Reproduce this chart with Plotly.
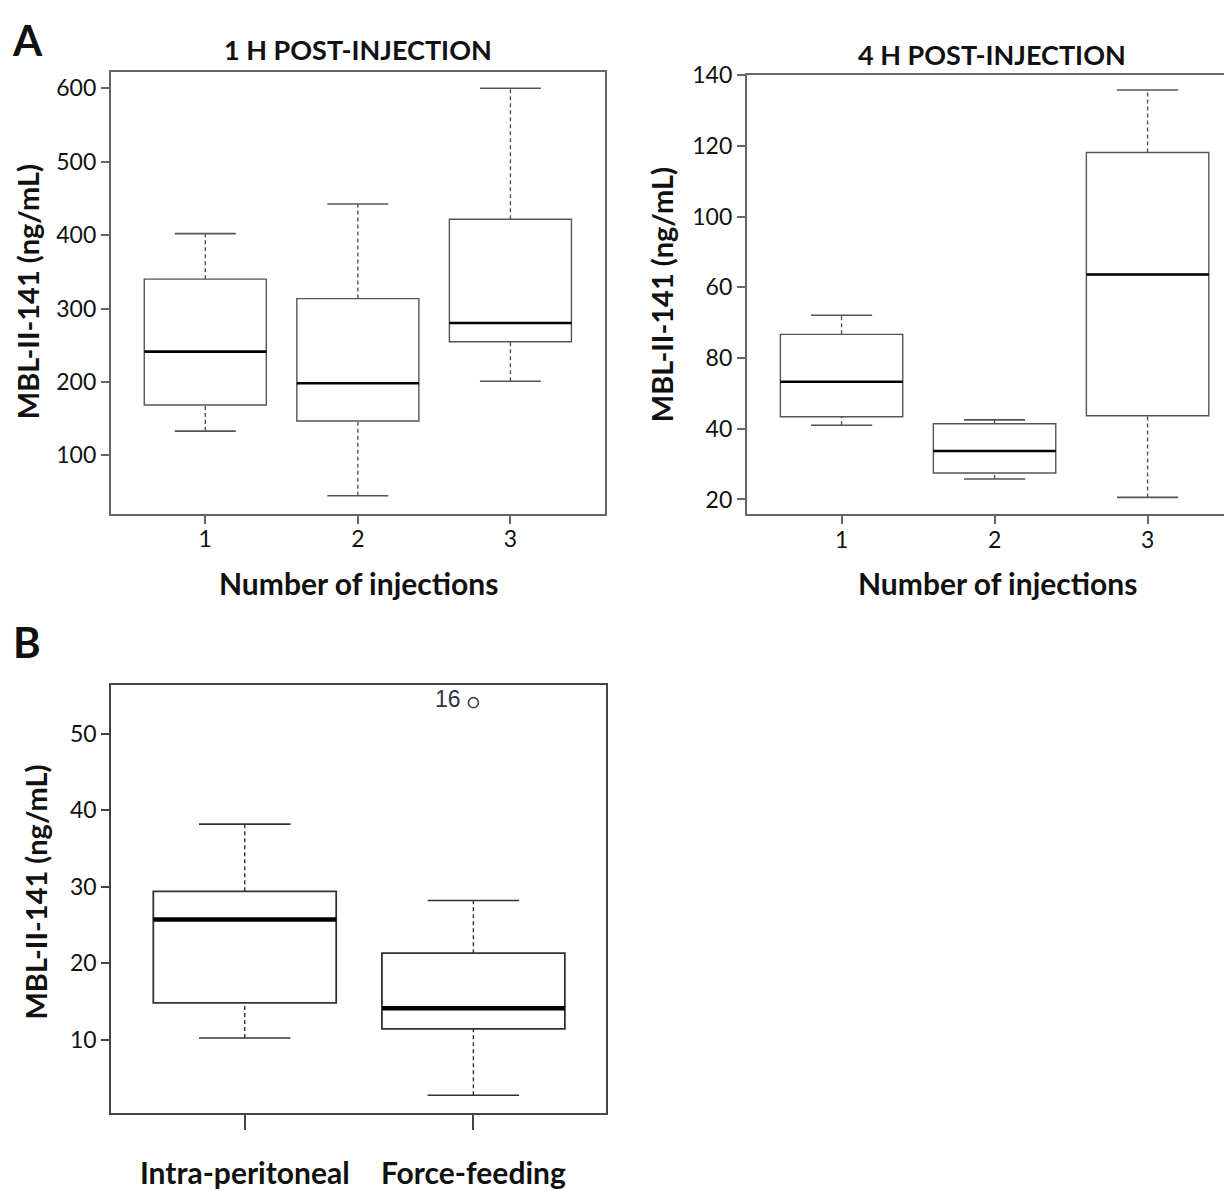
import plotly.graph_objects as go

# ---------------- data ----------------
# Panel A, 1 h post-injection
groups_1h = [1, 2, 3]
lower_1h = [133, 45, 201]
q1_1h = [168.5, 146.7, 254.8]
median_1h = [241.3, 198.2, 280.3]
q3_1h = [340, 313.5, 421.6]
upper_1h = [402, 442.5, 600]
yticks_1h = [100, 200, 300, 400, 500, 600]

# Panel A, 4 h post-injection
groups_4h = [1, 2, 3]
lower_4h = [41.0, 25.8, 20.6]
q1_4h = [43.4, 27.5, 43.7]
median_4h = [53.3, 33.7, 83.6]
q3_4h = [66.7, 41.4, 118.1]
upper_4h = [72.1, 42.5, 135.8]
yticks_4h_vals = [20, 40, 60, 80, 100, 120, 140]
yticks_4h_text = ["20", "40", "80", "60", "100", "120", "140"]  # as printed in the original

# Panel B
routes_b = ["Intra-peritoneal", "Force-feeding"]
pos_b = [1, 2]
lower_b = [10.2, 2.7]
q1_b = [14.8, 11.4]
median_b = [25.7, 14.1]
q3_b = [29.4, 21.3]
upper_b = [38.2, 28.2]
outlier_x_b = [2]
outlier_y_b = [54.1]
outlier_label_b = ["16"]
yticks_b = [10, 20, 30, 40, 50]

# ---------------- style ----------------
W, H = 1232, 1191
FONT = "Lato"
FRAME = "#666666"
BOXC = "#555555"
BOX_W = 0.8
CAP_W = 0.4


def px(x):
    return (x - 8) / W


def py(y, min_fig=0):
    s = max((y - 24) / 0.9867, min_fig)
    return 1 - s / H


fig = go.Figure()


def add_panel(xs, lo, q1, med, q3, hi, xa, ya, box_lw, med_lw, boxcol, whiskcol):
    fig.add_trace(go.Box(
        x=xs, q1=q1, median=med, q3=q3, lowerfence=q1, upperfence=q3,
        width=BOX_W, whiskerwidth=0, fillcolor="white",
        line=dict(color=boxcol, width=box_lw), boxpoints=False,
        xaxis=xa, yaxis=ya, showlegend=False, hoverinfo="skip"))
    wx, wy, cx, cy, mx, my = [], [], [], [], [], []
    for x, a, b, c, d, m in zip(xs, lo, q1, q3, hi, med):
        wx += [x, x, None, x, x, None]
        wy += [a, b, None, c, d, None]
        cx += [x - CAP_W / 2, x + CAP_W / 2, None, x - CAP_W / 2, x + CAP_W / 2, None]
        cy += [a, a, None, d, d, None]
        mx += [x - BOX_W / 2, x + BOX_W / 2, None]
        my += [m, m, None]
    fig.add_trace(go.Scatter(x=wx, y=wy, mode="lines", xaxis=xa, yaxis=ya,
                             line=dict(color=whiskcol, width=1.4, dash="4px,3px"),
                             showlegend=False, hoverinfo="skip"))
    fig.add_trace(go.Scatter(x=cx, y=cy, mode="lines", xaxis=xa, yaxis=ya,
                             line=dict(color=whiskcol, width=1.6),
                             showlegend=False, hoverinfo="skip"))
    fig.add_trace(go.Scatter(x=mx, y=my, mode="lines", xaxis=xa, yaxis=ya,
                             line=dict(color="black", width=med_lw),
                             showlegend=False, hoverinfo="skip"))


add_panel(groups_1h, lower_1h, q1_1h, median_1h, q3_1h, upper_1h, "x", "y", 1.4, 2.6, BOXC, "#555555")
add_panel(groups_4h, lower_4h, q1_4h, median_4h, q3_4h, upper_4h, "x2", "y2", 1.4, 2.6, BOXC, "#555555")
add_panel(pos_b, lower_b, q1_b, median_b, q3_b, upper_b, "x3", "y3", 1.8, 4.5, "#333333", "#333333")

fig.add_trace(go.Scatter(
    x=outlier_x_b, y=outlier_y_b, mode="markers",
    marker=dict(symbol="circle-open", size=10, color="#444444", line=dict(width=1.6)),
    xaxis="x3", yaxis="y3", showlegend=False, hoverinfo="skip"))
for xv, yv, lab in zip(outlier_x_b, outlier_y_b, outlier_label_b):
    fig.add_annotation(x=xv, y=yv, xref="x3", yref="y3", text=lab, showarrow=False,
                       xanchor="right", yanchor="middle", xshift=-10, yshift=4,
                       font=dict(family="Liberation Sans", size=23, color="#2b3550"))

tickfont = dict(family=FONT, size=23, color="#111111")


def xaxis(domain, rng, vals, text, anchor, mirror=True, ticklen=8, font=tickfont,
          standoff=0, col=FRAME):
    return dict(domain=domain, range=rng, tickvals=vals, ticktext=text, anchor=anchor,
                ticks="outside", ticklen=ticklen, tickwidth=1.5, tickcolor=col,
                showline=True, linecolor=col, linewidth=1.6, mirror=mirror,
                showgrid=False, zeroline=False, tickfont=font, fixedrange=True,
                ticklabelstandoff=standoff)


def yaxis(domain, rng, vals, text, anchor, mirror=True, col=FRAME):
    return dict(domain=domain, range=rng, tickvals=vals, ticktext=text, anchor=anchor,
                ticks="outside", ticklen=8, tickwidth=1.5, tickcolor=col,
                showline=True, linecolor=col, linewidth=1.6, mirror=mirror,
                showgrid=False, zeroline=False, tickfont=tickfont, fixedrange=True)


fig.update_layout(
    width=W, height=H, margin=dict(l=0, r=0, t=0, b=0),
    paper_bgcolor="white", plot_bgcolor="white",
    xaxis=xaxis([px(110.7), px(605)], [0.38, 3.62], groups_1h, [str(g) for g in groups_1h], "y",
                standoff=-4),
    yaxis=yaxis([py(514.7), py(72.7)], [20, 622.6], yticks_1h, [str(v) for v in yticks_1h], "x"),
    xaxis2=xaxis([px(746.7), 1.0], [0.38, 3.604], groups_4h, [str(g) for g in groups_4h], "y2",
                 standoff=-4),
    yaxis2=yaxis([py(515), py(75.7)], [15.8, 140.1], yticks_4h_vals, yticks_4h_text, "x2", mirror=False),
    xaxis3=xaxis([px(111), px(606)], [0.415, 2.58], pos_b, routes_b, "y3", ticklen=15,
                 font=dict(family=FONT, size=30, color="#111111", weight="bold"), standoff=18,
                 col="#444444"),
    yaxis3=yaxis([py(1113.3), py(685.4)], [0.37, 56.43], yticks_b, [str(v) for v in yticks_b], "x3",
                 col="#444444"),
)

bold = lambda s: "<b>" + s + "</b>"
ann = [
    ("A", 27, 28, 42, 0), ("B", 27, 643, 42, 0),
    ("1 H POST-INJECTION", 358, 50, 27, 0), ("4 H POST-INJECTION", 992, 55, 27, 0),
    ("Number of injections", 358, 584, 30, 0), ("Number of injections", 997, 584, 30, 0),
    ("MBL-II-141 (ng/mL)", 27, 293, 29, -90), ("MBL-II-141 (ng/mL)", 661, 296, 29, -90),
    ("MBL-II-141 (ng/mL)", 36, 893, 29, -90),
]
for text, x, y, size, ang in ann:
    fig.add_annotation(x=px(x), y=py(y, min_fig=17), xref="paper", yref="paper", text=bold(text),
                       showarrow=False, xanchor="center", yanchor="middle", textangle=ang,
                       font=dict(family=FONT, size=size, color="#111111"))

fig.write_html("out.html")
